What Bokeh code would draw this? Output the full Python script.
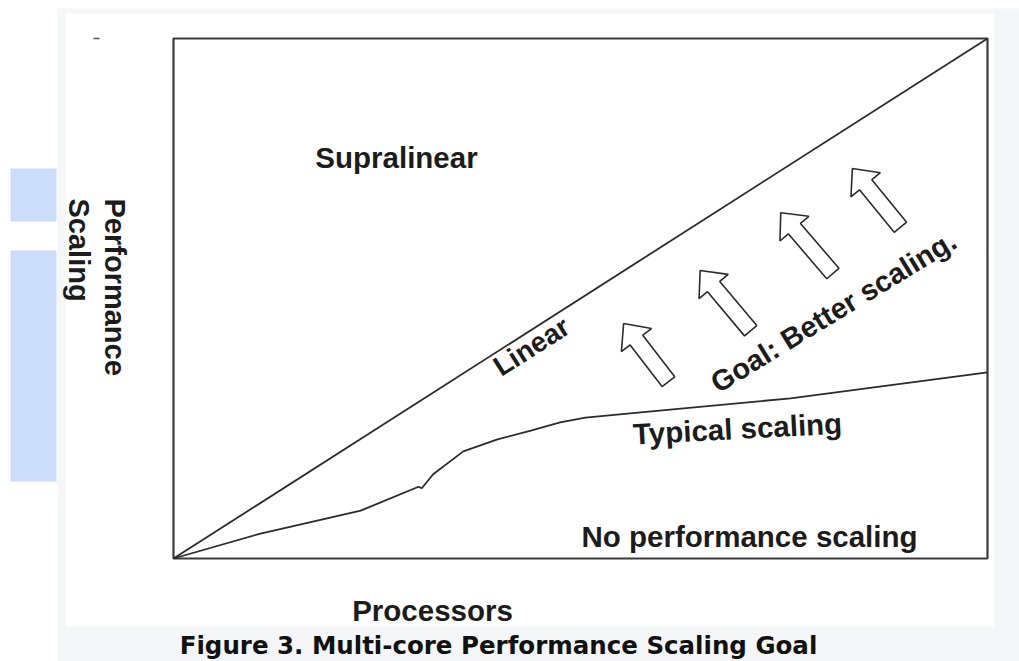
import math
from bokeh.plotting import figure
from bokeh.models import Range1d
from bokeh.core.properties import value
from bokeh.embed import file_html
from bokeh.resources import INLINE

# ---------------- data (percent of the chart box) ----------------
linear_x = [0, 100]
linear_y = [0, 100]

typical_x = [0, 10.7, 23.0, 30.1, 30.5, 31.9, 35.6, 39.8, 43.9, 47.5, 50.6, 57.4, 75.8, 100]
typical_y = [0, 4.8, 9.2, 13.8, 13.5, 16.2, 20.6, 22.9, 24.6, 26.2, 27.1, 28.1, 30.8, 35.8]

# arrows: tip and tail positions (percent)
arrow_tip_x = [55.3, 64.7, 74.6, 83.4]
arrow_tip_y = [45.2, 55.4, 66.5, 75.0]
arrow_tail_x = [60.8, 70.9, 81.0, 89.3]
arrow_tail_y = [34.0, 43.8, 54.8, 63.7]

region_labels = ["Supralinear", "Linear", "Goal: Better scaling.", "Typical scaling", "No performance scaling"]
x_label = "Processors"
y_label_lines = ["Performance", "Scaling"]
caption = "Figure 3. Multi-core Performance Scaling Goal"

# ---------------- layout (pixels) ----------------
BOX_L, BOX_R, BOX_T, BOX_B = 173.0, 987.0, 38.0, 558.0
SX = (BOX_R - BOX_L) / 100.0
SY = (BOX_B - BOX_T) / 100.0

def X(px):
    return (px - BOX_L) / SX

def Y(py):
    return (BOX_B - py) / SY

def PX(x):
    return BOX_L + x * SX

def PY(y):
    return BOX_B - y * SY

W, H = 1019, 661
p = figure(width=W, height=H, output_backend="svg", toolbar_location=None,
           x_range=Range1d(X(0), X(W)), y_range=Range1d(Y(H), Y(0)),
           x_axis_location=None, y_axis_location=None, min_border=0)
p.grid.visible = False
p.outline_line_color = None
p.background_fill_color = "white"
p.border_fill_color = "white"

# page decorations
p.quad(left=[X(57)], right=[X(1019)], top=[Y(8)], bottom=[Y(661)], fill_color="#f5f6f8", line_color=None)
p.quad(left=[X(65)], right=[X(993)], top=[Y(13)], bottom=[Y(626)], fill_color="#ffffff", line_color=None)
p.quad(left=[X(10), X(10)], right=[X(56), X(56)], top=[Y(168), Y(250)], bottom=[Y(221), Y(481)],
       fill_color="#ccdcfb", line_color=None)
p.line(x=[X(93), X(99)], y=[Y(38), Y(38)], line_color="#555555", line_width=1.5)

INK = "#2b2b2b"
# chart box
p.quad(left=[0], right=[100], bottom=[0], top=[100], fill_color=None, line_color="#3a3a3a", line_width=2.2)
# linear and typical lines
p.line(linear_x, linear_y, line_color=INK, line_width=1.8)
p.line(typical_x, typical_y, line_color=INK, line_width=1.8)

# arrows (outlined block arrows)
xs, ys = [], []
for tx, ty, bx, by in zip(arrow_tip_x, arrow_tip_y, arrow_tail_x, arrow_tail_y):
    Tx, Ty, Bx, By = PX(tx), PY(ty), PX(bx), PY(by)
    dx, dy = Tx - Bx, Ty - By
    L = math.hypot(dx, dy)
    ux, uy = dx / L, dy / L
    nx, ny = -uy, ux
    w, hw, hl = 8.0, 19.0, 21.0
    Hx, Hy = Tx - ux * hl, Ty - uy * hl
    pts = [(Bx + nx * w, By + ny * w), (Hx + nx * w, Hy + ny * w), (Hx + nx * hw, Hy + ny * hw),
           (Tx, Ty), (Hx - nx * hw, Hy - ny * hw), (Hx - nx * w, Hy - ny * w), (Bx - nx * w, By - ny * w)]
    xs.append([X(a) for a, b in pts])
    ys.append([Y(b) for a, b in pts])
p.patches(xs, ys, fill_color="white", line_color=INK, line_width=1.6)

TXT = "#1c1c1c"
FONT = value("Liberation Sans")

def label(px, py, text, angle=0.0, align="center", size="29.5px", font=FONT, color=TXT):
    p.text(x=[X(px)], y=[Y(py)], text=[text], angle=angle, text_align=align, text_baseline="middle",
           text_font=font, text_font_style="bold", text_font_size=size, text_color=color)

line_ang = math.atan((BOX_B - BOX_T) / (BOX_R - BOX_L))
label(396, 157, region_labels[0])
label(531, 346, region_labels[1], angle=line_ang, size="28px")
label(833, 311, region_labels[2], angle=math.radians(31.5), size="29px")
label(737, 428, region_labels[3], angle=math.radians(3))
label(749, 536, region_labels[4])
label(432, 610, x_label)
label(114, 198, y_label_lines[0], angle=-math.pi / 2, align="left", size="29px")
label(78, 198, y_label_lines[1], angle=-math.pi / 2, align="left", size="29px")
label(498, 645, caption, size="24.5px", font=value("DejaVu Sans"), color="#111111")

open("out.html", "w").write(file_html(p, INLINE))
